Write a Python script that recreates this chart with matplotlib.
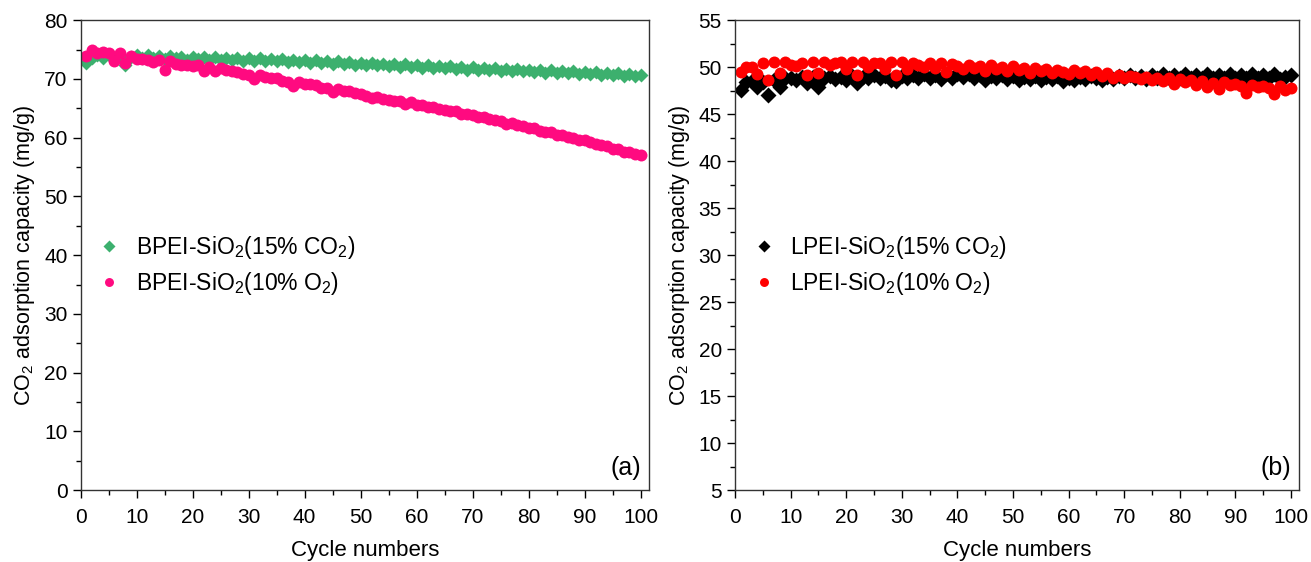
import numpy as np
import matplotlib.pyplot as plt
from matplotlib.ticker import MultipleLocator

plt.rcParams['font.family'] = ['Liberation Sans', 'DejaVu Sans']
plt.rcParams['mathtext.fontset'] = 'custom'
plt.rcParams['mathtext.rm'] = 'Liberation Sans'

cycles = np.arange(1, 101)

# (a) BPEI-SiO2
bpei_co2 = [72.7, 73.6, 74.0, 73.5, 74.0, 73.6, 73.9, 72.3, 73.8, 74.0,
            73.5, 74.0, 73.6, 73.9, 73.4, 73.9, 73.5, 73.8, 73.3, 73.8,
            73.4, 73.7, 73.3, 73.8, 73.3, 73.6, 73.2, 73.6, 73.1, 73.5,
            73.1, 73.5, 73.1, 73.4, 73.0, 73.4, 72.9, 73.3, 72.9, 73.2,
            72.7, 73.2, 72.7, 73.1, 72.6, 73.0, 72.5, 72.9, 72.4, 72.8,
            72.4, 72.7, 72.3, 72.6, 72.2, 72.6, 72.1, 72.5, 72.1, 72.4,
            71.9, 72.3, 71.9, 72.2, 71.8, 72.2, 71.7, 72.1, 71.6, 72.0,
            71.5, 71.9, 71.5, 71.8, 71.4, 71.7, 71.3, 71.7, 71.3, 71.6,
            71.2, 71.5, 71.1, 71.5, 71.0, 71.4, 71.0, 71.3, 70.9, 71.2,
            70.8, 71.2, 70.7, 71.1, 70.6, 71.0, 70.5, 70.9, 70.5, 70.7]
bpei_o2 = [73.9, 74.9, 74.5, 74.6, 74.5, 73.0, 74.4, 72.8, 73.9, 73.4,
           73.4, 73.2, 72.9, 73.2, 71.6, 73.0, 72.6, 72.3, 72.4, 72.2,
           72.3, 71.3, 72.1, 71.3, 71.8, 71.5, 71.3, 71.2, 70.9, 70.7,
           70.0, 70.6, 70.3, 70.1, 70.1, 69.7, 69.4, 68.8, 69.4, 69.1,
           69.1, 68.9, 68.5, 68.5, 67.7, 68.3, 67.9, 67.9, 67.6, 67.5,
           67.1, 66.8, 67.0, 66.6, 66.5, 66.3, 66.2, 65.8, 66.0, 65.6,
           65.5, 65.2, 65.3, 64.9, 64.8, 64.5, 64.6, 64.1, 64.0, 63.8,
           63.6, 63.5, 63.1, 63.0, 62.8, 62.4, 62.5, 62.1, 62.0, 61.6,
           61.6, 61.2, 61.0, 60.9, 60.5, 60.5, 60.1, 60.0, 59.6, 59.6,
           59.2, 59.0, 58.7, 58.5, 58.1, 58.0, 57.6, 57.5, 57.3, 57.1]

# (b) LPEI-SiO2
lpei_co2 = [47.6, 48.4, 48.5, 47.9, 48.4, 47.0, 48.6, 47.9, 48.8, 48.9,
            48.6, 49.0, 48.3, 49.0, 47.9, 48.9, 49.1, 48.7, 49.0, 48.6,
            49.1, 48.3, 49.0, 48.8, 49.2, 48.8, 49.1, 48.6, 48.5, 49.1,
            48.8, 49.2, 48.9, 49.3, 48.8, 49.2, 48.7, 49.3, 48.9, 49.3,
            49.0, 49.3, 48.9, 49.2, 48.6, 49.1, 48.8, 49.2, 48.7, 49.1,
            48.6, 49.0, 48.7, 49.1, 48.6, 49.0, 48.7, 49.1, 48.5, 48.9,
            48.6, 49.0, 48.7, 49.1, 48.8, 48.6, 49.0, 48.7, 49.1, 48.8,
            49.2, 48.8, 49.1, 48.7, 49.2, 48.9, 49.3, 48.9, 49.2, 48.8,
            49.3, 48.9, 49.2, 48.8, 49.3, 48.8, 49.2, 48.9, 49.3, 48.8,
            49.2, 48.8, 49.3, 48.8, 49.2, 48.9, 49.3, 48.7, 49.0, 49.2]
lpei_o2 = [49.5, 50.0, 50.0, 49.3, 50.5, 48.6, 50.6, 49.4, 50.6, 50.2,
           50.1, 50.4, 49.2, 50.6, 49.4, 50.6, 50.2, 50.4, 50.6, 49.8,
           50.6, 49.2, 50.6, 50.0, 50.4, 50.4, 49.8, 50.6, 49.2, 50.6,
           49.8, 50.4, 50.2, 50.0, 50.5, 49.9, 50.4, 49.5, 50.3, 50.1,
           49.8, 50.2, 49.9, 50.1, 49.6, 50.2, 49.8, 50.0, 49.6, 50.1,
           49.7, 49.9, 49.4, 49.9, 49.6, 49.8, 49.4, 49.7, 49.5, 49.3,
           49.7, 49.4, 49.6, 49.2, 49.5, 49.1, 49.4, 48.9, 49.2, 48.8,
           49.1, 49.0, 48.7, 49.0, 48.6, 48.9, 48.5, 48.8, 48.2, 48.7,
           48.4, 48.6, 48.1, 48.5, 47.9, 48.3, 47.7, 48.4, 48.1, 48.2,
           48.0, 47.3, 48.1, 47.9, 48.0, 47.8, 47.2, 48.0, 47.6, 47.8]

fig = plt.figure(figsize=(13.11, 5.62), dpi=100)
axa = fig.add_axes([0.0615, 0.128, 0.4335, 0.836])
axb = fig.add_axes([0.5607, 0.128, 0.4303, 0.836])

def style(ax, ylim, ymaj, ymin):
    ax.set_xlim(0, 101.5)
    ax.set_ylim(*ylim)
    ax.xaxis.set_major_locator(MultipleLocator(10))
    ax.xaxis.set_minor_locator(MultipleLocator(5))
    ax.yaxis.set_major_locator(MultipleLocator(ymaj))
    ax.yaxis.set_minor_locator(MultipleLocator(ymin))
    ax.tick_params(which='major', direction='out', length=6, width=1, labelsize=15)
    ax.tick_params(axis='x', which='major', pad=7)
    ax.tick_params(which='minor', direction='out', length=3.5, width=1)
    for s in ax.spines.values():
        s.set_linewidth(1)
        s.set_color('#333333')
    ax.set_xlabel('Cycle numbers', fontsize=16, labelpad=9)
    ax.set_ylabel('CO$_2$ adsorption capacity (mg/g)', fontsize=15.5, labelpad=5)

leg_kw = dict(loc='center left', bbox_to_anchor=(-0.018, 0.478), frameon=False, fontsize=16.5,
              handletextpad=0.15, labelspacing=0.4, markerscale=0.75, borderaxespad=0.3)

axa.plot(cycles, bpei_co2, 'D', ms=7.5, color='#3CB06E', mec='none', label='BPEI-SiO$_2$(15% CO$_2$)')
axa.plot(cycles, bpei_o2, 'o', ms=8.6, color='#FF0A80', mec='none', label='BPEI-SiO$_2$(10% O$_2$)')
style(axa, (0, 80), 10, 5)
axa.legend(**leg_kw)
axa.text(0.986, 0.047, '(a)', transform=axa.transAxes, ha='right', va='center', fontsize=18)

axb.plot(cycles, lpei_co2, 'D', ms=7.8, color='black', mec='none', label='LPEI-SiO$_2$(15% CO$_2$)')
axb.plot(cycles, lpei_o2, 'o', ms=8.6, color='#FF0000', mec='none', label='LPEI-SiO$_2$(10% O$_2$)')
style(axb, (5, 55), 5, 2.5)
axb.legend(**leg_kw)
axb.text(0.986, 0.047, '(b)', transform=axb.transAxes, ha='right', va='center', fontsize=18)

fig.savefig('out.png', dpi=100)
